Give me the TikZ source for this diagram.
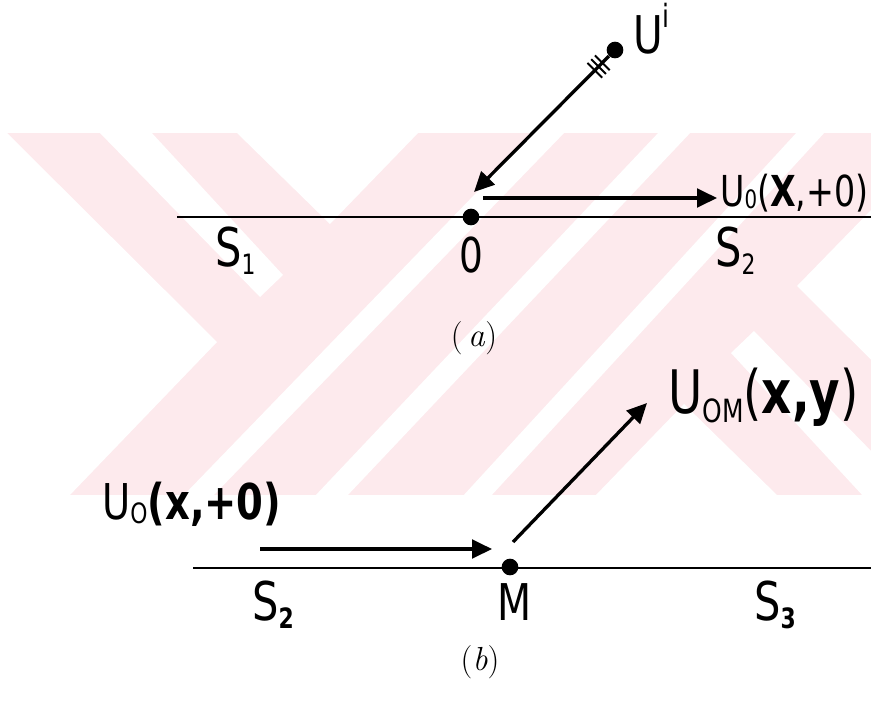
\documentclass[tikz,border=0pt]{standalone}
\usepackage{fontspec}
\usetikzlibrary{arrows.meta,calc}
\newfontfamily\labfont[FakeStretch=0.78]{DejaVu Sans}
\definecolor{wmpink}{RGB}{253,234,237}
\begin{document}
\begin{tikzpicture}[x=0.75pt,y=-0.75pt,
  surf/.style={line width=1.9pt},
  vec/.style={line width=2.5pt,-{Triangle[length=15pt,width=14pt]}},
  blob/.style={circle,fill=black,inner sep=0pt,minimum size=12.5pt},
  lab/.style={inner sep=0pt,anchor=base west},
  tickmark/.style={line width=1.5pt},
]
\useasboundingbox (0,0) rectangle (871,707);
% faint watermark
\begin{scope}
  \clip (0,133) rectangle (871,495);
  \fill[wmpink] (0,133) rectangle (871,495);
  \fill[white] (-2,131) -- (5,131) -- (217,342) -- (68,497) -- (-2,497) -- cycle;
  \fill[white] (98,131) -- (150,131) -- (283,275) -- (260,297) -- cycle;
  \fill[white] (235,131) -- (420,131) -- (330,224) -- cycle;
  \fill[white] (797,286) -- (948,131) -- (1020,131) -- (1020,497) -- (1009,497) -- cycle;
  \fill[white] (916,497) -- (864,497) -- (731,353) -- (754,331) -- cycle;
  \fill[white] (779,497) -- (594,497) -- (684,404) -- cycle;
  \fill[white] (536,131) -- (566,131) -- (212,497) -- (182,497) -- cycle;
  \fill[white] (660,131) -- (692,131) -- (346,497) -- (314,497) -- cycle;
  \fill[white] (798,131) -- (826,131) -- (490,497) -- (462,497) -- cycle;
\end{scope}

% ---------- (a) ----------
\coordinate (a1) at (177,217);
\coordinate (a2) at (872,217);
\draw[surf] (a1) -- (a2);
\node[blob] (O) at (471,217) {};
\node[blob] (src) at (615,50) {};
\coordinate (hitA) at (474,192);
\draw[vec] (src) -- (hitA);
\foreach \t in {13.5,17.5,21.5}{
  \draw[tickmark] ($(src)!\t pt!(hitA)$) +(5.5pt,-5.5pt) -- +(-5.5pt,5.5pt);
}
\coordinate (ha1) at (483,198);
\coordinate (ha2) at (717,198);
\draw[vec] (ha1) -- (ha2);

\node[lab,font=\labfont\fontsize{39}{39}\selectfont] (Ui) at (633,53)
  {U\raisebox{19pt}{\fontsize{24}{24}\selectfont i}};
\node[lab,font=\labfont\fontsize{32}{32}\selectfont] (U0a) at (720,206)
  {U\raisebox{-2pt}{\fontsize{19}{19}\selectfont 0}(\textbf{X},+0)};
\node[lab,font=\labfont\fontsize{40}{40}\selectfont] (S1) at (215,266)
  {S\raisebox{-6pt}{\fontsize{21}{21}\selectfont 1}};
\node[lab,font=\labfont\fontsize{36}{36}\selectfont] (zero) at (459,272) {0};
\node[lab,font=\labfont\fontsize{40}{40}\selectfont] (S2a) at (715,266)
  {S\raisebox{-6pt}{\fontsize{21}{21}\selectfont 2}};
\node[inner sep=0pt,font=\fontsize{25}{25}\selectfont] (capa) at (474,338) {(\,\textit{a})};

% ---------- (b) ----------
\coordinate (b1) at (193,568);
\coordinate (b2) at (872,568);
\draw[surf] (b1) -- (b2);
\node[blob] (M) at (510,567) {};
\coordinate (hb1) at (260,549);
\coordinate (hb2) at (492,549);
\draw[vec] (hb1) -- (hb2);
\coordinate (ob1) at (513,542);
\coordinate (ob2) at (647,403);
\draw[vec] (ob1) -- (ob2);

\node[lab,font=\labfont\fontsize{37}{37}\selectfont] (U0b) at (102,519)
  {U\raisebox{-3pt}{\fontsize{21}{21}\selectfont O}\textbf{(x,+0)}};
\node[lab,font=\labfont\fontsize{45}{45}\selectfont] (UOM) at (668,413)
  {U\raisebox{-7pt}{\fontsize{24}{24}\selectfont OM}(\textbf{x,y})};
\node[lab,font=\labfont\fontsize{40}{40}\selectfont] (S2b) at (252,620)
  {S\raisebox{-6pt}{\fontsize{21}{21}\selectfont\bfseries 2}};
\node[lab,font=\labfont\fontsize{38}{38}\selectfont] (Mlab) at (497,620) {M};
\node[lab,font=\labfont\fontsize{40}{40}\selectfont] (S3) at (754,620)
  {S\raisebox{-6pt}{\fontsize{21}{21}\selectfont\bfseries 3}};
\node[inner sep=0pt,font=\fontsize{25}{25}\selectfont] (capb) at (480,662) {(\textit{b})};
\end{tikzpicture}
\end{document}
